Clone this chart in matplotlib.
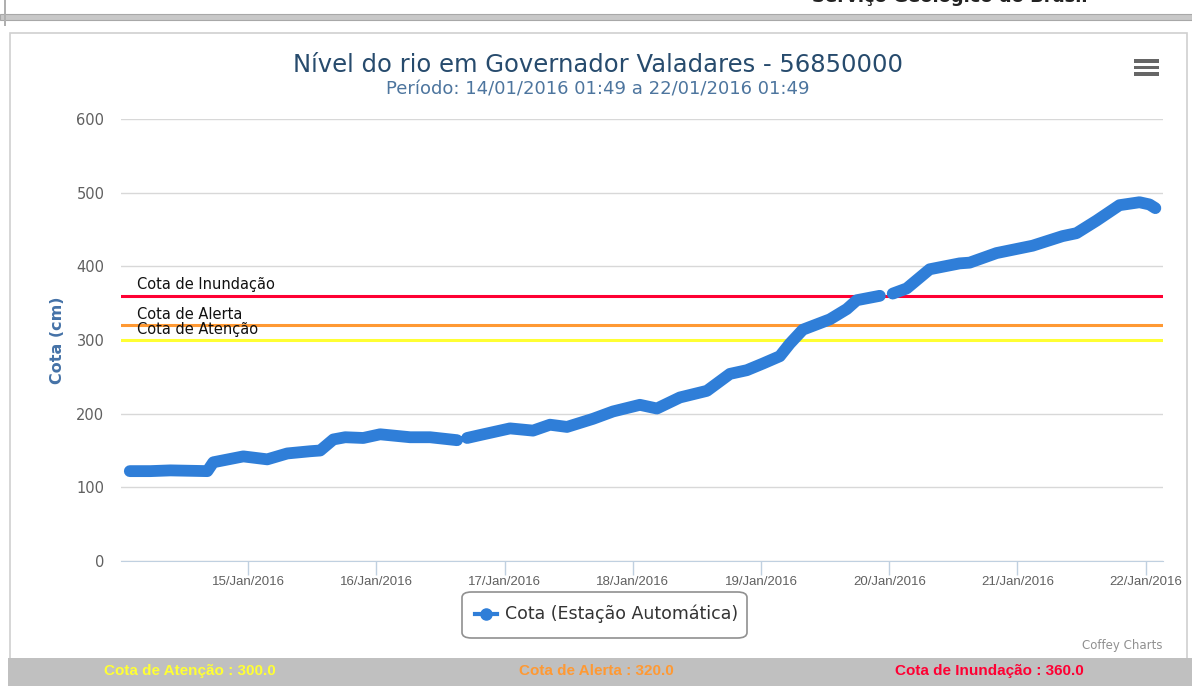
import numpy as np
import pandas as pd
import matplotlib
matplotlib.use("Agg")
import matplotlib.pyplot as plt
import matplotlib.dates as mdates
from matplotlib.patches import Rectangle, FancyBboxPatch
from matplotlib.lines import Line2D

# river level readings (cm); None marks a gap in the record
times = [
    "2016-01-14 01:49", "2016-01-14 05:40", "2016-01-14 09:25", "2016-01-14 16:20",
    "2016-01-14 17:27", "2016-01-14 23:04", "2016-01-15 03:33", "2016-01-15 07:18",
    "2016-01-15 11:36", "2016-01-15 13:28", "2016-01-15 15:55", "2016-01-15 18:09",
    "2016-01-15 21:31", "2016-01-16 00:41", "2016-01-16 06:18", "2016-01-16 10:02",
    "2016-01-16 15:05", "2016-01-16 16:03", "2016-01-16 16:58", "2016-01-16 19:24",
    "2016-01-17 01:00", "2016-01-17 05:18", "2016-01-17 08:29", "2016-01-17 11:40",
    "2016-01-17 16:32", "2016-01-17 20:17", "2016-01-18 01:19", "2016-01-18 04:30",
    "2016-01-18 08:48", "2016-01-18 13:52", "2016-01-18 18:10", "2016-01-18 21:20",
    "2016-01-19 00:20", "2016-01-19 03:31", "2016-01-19 05:23", "2016-01-19 07:49",
    "2016-01-19 12:52", "2016-01-19 16:03", "2016-01-19 17:55", "2016-01-19 22:14",
    "2016-01-19 23:20", "2016-01-20 00:39", "2016-01-20 03:16", "2016-01-20 07:34",
    "2016-01-20 13:10", "2016-01-20 15:03", "2016-01-20 20:05", "2016-01-21 02:50",
    "2016-01-21 08:26", "2016-01-21 11:03", "2016-01-21 14:48", "2016-01-21 19:06",
    "2016-01-21 22:51", "2016-01-22 00:43", "2016-01-22 01:49",
]
cota = [
    122, 122, 123, 122,
    134, 142, 138, 146,
    149, 150, 165, 168,
    167, 172, 168, 168,
    164, None, 167, 171,
    180, 177, 185, 182,
    193, 203, 212, 207,
    222, 231, 254, 259,
    268, 278, 295, 314,
    328, 342, 354, 360,
    None, 363, 370, 396,
    404, 405, 418, 428,
    441, 445, 462, 483,
    487, 484, 479,
]

# alert thresholds
limiar_nomes = ["Cota de Atenção", "Cota de Alerta", "Cota de Inundação"]
limiar_valores = [300.0, 320.0, 360.0]
limiar_cores = ["#ffff33", "#ff9933", "#ff0033"]

tick_dias = ["2016-01-15", "2016-01-16", "2016-01-17", "2016-01-18",
             "2016-01-19", "2016-01-20", "2016-01-21", "2016-01-22"]

W, H = 1192, 686
fig = plt.figure(figsize=(W / 100, H / 100), dpi=100)
fig.patch.set_facecolor("white")

def fx(px):
    return px / W

def fy(py):
    return 1 - py / H

# page decoration above the chart panel
fig.patches.append(Rectangle((0, fy(20)), 1, 6 / H, transform=fig.transFigure,
                             facecolor="#c8c8c8", edgecolor="#a8a8a8", lw=0.8, zorder=-5))
fig.patches.append(Rectangle((fx(4), fy(26)), 2 / W, 26 / H, transform=fig.transFigure,
                             facecolor="#b0b0b0", edgecolor="none", zorder=-5))
fig.text(fx(950), fy(-3), "Serviço Geológico do Brasil", ha="center", va="center",
         fontsize=13, fontweight="bold", color="#222222")
fig.patches.append(Rectangle((fx(10), fy(690)), fx(1177), (690 - 33) / H,
                             transform=fig.transFigure, facecolor="white",
                             edgecolor="#d0d0d0", lw=1.2, zorder=-5))

# bottom grey band with the threshold values
fig.patches.append(Rectangle((fx(8), 0), 1, 28 / H, transform=fig.transFigure,
                             facecolor="#c0c0c0", edgecolor="none", zorder=3))
band_x = [190, 596, 989]
for nome, val, cor, bx in zip(limiar_nomes, limiar_valores, limiar_cores, band_x):
    fig.text(fx(bx), fy(671), f"{nome} : {val:.1f}", ha="center", va="center",
             fontsize=11, fontweight="bold", color=cor,
             family="Liberation Sans", zorder=4)

ax = fig.add_axes([fx(121), fy(561), fx(1163 - 121), (561 - 119) / H])
ax.set_facecolor("none")

t = pd.to_datetime(times)
v = np.array([np.nan if c is None else c for c in cota], dtype=float)
ax.plot(t, v, color="#2f7ed8", lw=8.5, solid_capstyle="round",
        solid_joinstyle="round", zorder=5)

for nome, val, cor in zip(limiar_nomes, limiar_valores, limiar_cores):
    ax.axhline(val, color=cor, lw=2.2, zorder=3)
    ax.annotate(nome, xy=(0.015, val), xycoords=("axes fraction", "data"),
                xytext=(0, 2.5), textcoords="offset points", ha="left", va="bottom",
                fontsize=10.5, color="#111111", zorder=4)

ax.set_ylim(0, 600)
ax.set_yticks([0, 100, 200, 300, 400, 500, 600])
ax.set_xlim(pd.Timestamp("2016-01-14 00:10"), pd.Timestamp("2016-01-22 03:15"))
ax.set_xticks(pd.to_datetime(tick_dias))
ax.xaxis.set_major_formatter(mdates.DateFormatter("%d/%b/%Y"))

ax.grid(axis="y", color="#d8d8d8", lw=1)
ax.set_axisbelow(True)
for s in ["left", "right", "top"]:
    ax.spines[s].set_visible(False)
ax.spines["bottom"].set_color("#c0d0e0")
ax.tick_params(axis="y", length=0, pad=12, labelsize=10.5, labelcolor="#606060")
ax.tick_params(axis="x", length=10, width=1, color="#c0d0e0", pad=1,
               labelsize=9.5, labelcolor="#606060")
for lb in ax.get_xticklabels():
    lb.set_family("Liberation Sans")
ax.set_ylabel("Cota (cm)", fontsize=11.5, fontweight="bold", color="#4572a7", labelpad=8)

fig.text(fx(598), fy(65), "Nível do rio em Governador Valadares - 56850000",
         ha="center", va="center", fontsize=17.5, color="#274b6d")
fig.text(fx(598), fy(89), "Período: 14/01/2016 01:49 a 22/01/2016 01:49",
         ha="center", va="center", fontsize=13, color="#4d759e")

# menu button
for yy in [61, 67.5, 74]:
    fig.patches.append(Rectangle((fx(1134), fy(yy + 1.7)), 25 / W, 3.4 / H,
                                 transform=fig.transFigure, facecolor="#666666",
                                 edgecolor="none"))

# legend box
fig.patches.append(FancyBboxPatch((fx(462), fy(638)), 285 / W, 46 / H,
                                  boxstyle="round,pad=0,rounding_size=0.008",
                                  transform=fig.transFigure, facecolor="white",
                                  edgecolor="#909090", lw=1.2))
fig.add_artist(Line2D([fx(475), fx(497)], [fy(614), fy(614)], transform=fig.transFigure,
                      color="#2f7ed8", lw=3))
fig.add_artist(Line2D([fx(486)], [fy(614)], transform=fig.transFigure,
                      color="#2f7ed8", marker="o", markersize=8, lw=0))
fig.text(fx(505), fy(614), "Cota (Estação Automática)", ha="left", va="center",
         fontsize=12.5, color="#333333")

fig.text(fx(1163), fy(646), "Coffey Charts", ha="right", va="center",
         fontsize=8.5, color="#909090")

fig.savefig("out.png", dpi=100)
